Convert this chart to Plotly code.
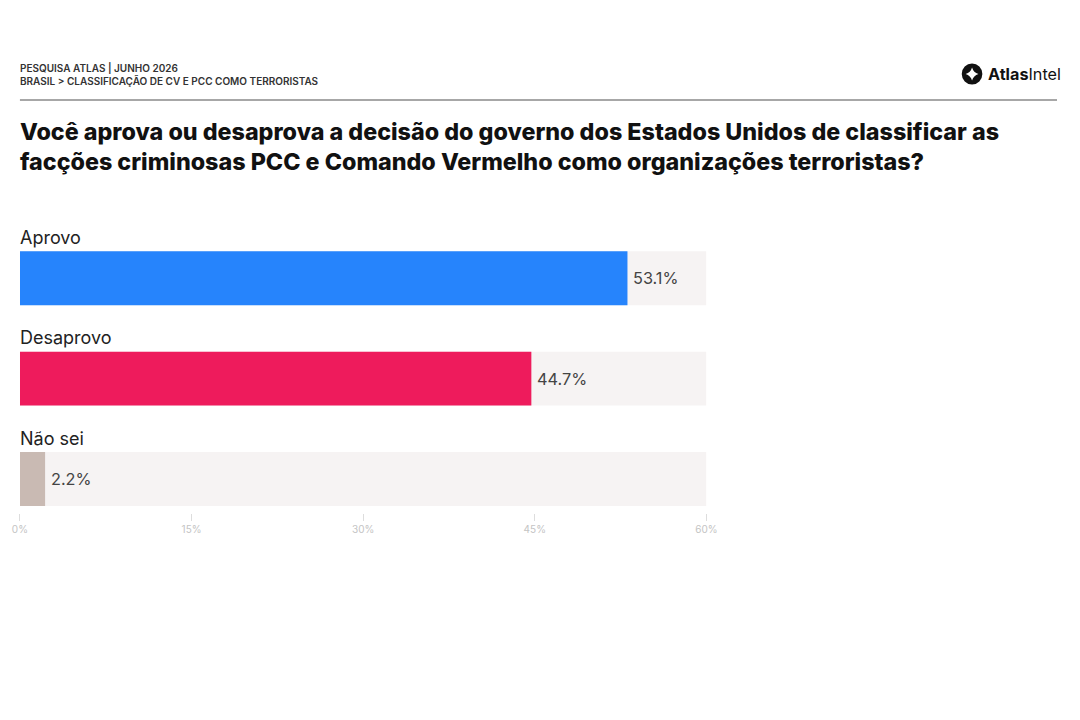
import plotly.graph_objects as go

# dados da pesquisa
categorias = ["Aprovo", "Desaprovo", "Não sei"]
valores = [53.1, 44.7, 2.2]
cores = ["#2684fc", "#ee1b5c", "#c9bab3"]
ticks = [0, 15, 30, 45, 60]
tick_labels = ["0%", "15%", "30%", "45%", "60%"]
maximo = 60

# a pagina tem margem de 8px; a figura fica um pouco menor que a janela
# (1080x720) para nao aparecer barra de rolagem nem reescala
W, H = 1060, 700
M = 8

# pixel da janela -> fracao do papel
def px(x):
    return (x - M) / W

def py(y):
    return 1 - (y - M) / H

pos = list(range(len(categorias)))

fig = go.Figure()

# trilho de fundo ate 60%
fig.add_trace(go.Bar(
    x=[maximo] * len(categorias), y=pos, orientation="h",
    marker=dict(color="#f6f3f3", line=dict(width=0)),
    width=0.537, hoverinfo="skip", showlegend=False,
))

fig.add_trace(go.Bar(
    x=valores, y=pos, orientation="h",
    marker=dict(color=cores, line=dict(width=0)),
    width=0.537, showlegend=False,
))

for i, (c, v) in enumerate(zip(categorias, valores)):
    fig.add_annotation(x=0, y=i, text=c, xref="x", yref="y",
                       xanchor="left", yanchor="middle", yshift=41, xshift=-2, showarrow=False,
                       font=dict(family="Inter", size=18, color="#222222"))
    fig.add_annotation(x=v, y=i, text=f"{v:.1f}%", xref="x", yref="y",
                       xanchor="left", yanchor="middle", xshift=4, showarrow=False,
                       font=dict(family="Inter", size=16.3, color="#444444"))

# cabecalho
fig.add_annotation(x=px(10), y=py(68), xref="paper", yref="paper",
                   text="PESQUISA ATLAS | JUNHO 2026", showarrow=False,
                   xanchor="left", yanchor="middle",
                   font=dict(family="Inter", size=10, color="#333333", weight=600))
fig.add_annotation(x=px(10), y=py(81), xref="paper", yref="paper",
                   text="BRASIL > CLASSIFICAÇÃO DE CV E PCC COMO TERRORISTAS", showarrow=False,
                   xanchor="left", yanchor="middle",
                   font=dict(family="Inter", size=10, color="#333333", weight=600))
fig.add_shape(type="line", xref="paper", yref="paper",
              x0=px(12), x1=1, y0=py(100), y1=py(100),
              line=dict(color="#8a8a8a", width=1.5))

# titulo
fig.add_annotation(x=px(10), y=py(146), xref="paper", yref="paper",
                   text="Você aprova ou desaprova a decisão do governo dos Estados Unidos de classificar as<br>"
                        "facções criminosas PCC e Comando Vermelho como organizações terroristas?",
                   showarrow=False, xanchor="left", yanchor="middle", align="left",
                   font=dict(family="Inter", size=23.3, color="#111111", weight=800))

# logo (a figura termina em ~1068px, entao fica um pouco mais a esquerda)
lx = 971
fig.add_shape(type="circle", xref="paper", yref="paper",
              x0=px(lx), x1=px(lx + 21), y0=py(63.5), y1=py(84.5),
              fillcolor="#111111", line=dict(width=0))
fig.add_shape(type="path", xref="paper", yref="paper",
              path=f"M {px(lx + 10.5)},{py(67.5)} Q {px(lx + 12)},{py(72.5)} {px(lx + 17)},{py(74)} "
                   f"Q {px(lx + 12)},{py(75.5)} {px(lx + 10.5)},{py(80.5)} "
                   f"Q {px(lx + 9)},{py(75.5)} {px(lx + 4)},{py(74)} "
                   f"Q {px(lx + 9)},{py(72.5)} {px(lx + 10.5)},{py(67.5)} Z",
              fillcolor="#ffffff", line=dict(width=0))
fig.add_annotation(x=px(lx + 25), y=py(74), xref="paper", yref="paper",
                   text="<b>Atlas</b>Intel", showarrow=False,
                   xanchor="left", yanchor="middle",
                   font=dict(family="Inter", size=16.2, color="#111111"))

fig.update_layout(
    width=W, height=H,
    margin=dict(l=0, r=0, t=0, b=0),
    paper_bgcolor="#ffffff", plot_bgcolor="#ffffff",
    barmode="overlay",
    xaxis=dict(domain=[px(12), px(711)], range=[0, maximo],
               tickvals=ticks, ticktext=tick_labels, ticklabeloverflow="allow",
               showgrid=False, zeroline=False, showline=False,
               ticks="outside", ticklen=7, tickcolor="#dddddd", tickwidth=1,
               tickfont=dict(family="Inter", size=10, color="#c4c4c4")),
    yaxis=dict(domain=[py(513), py(228)], range=[2.338, -0.5],
               showticklabels=False, showgrid=False, zeroline=False, showline=False),
)

fig.write_html("out.html", config={"displayModeBar": False})
